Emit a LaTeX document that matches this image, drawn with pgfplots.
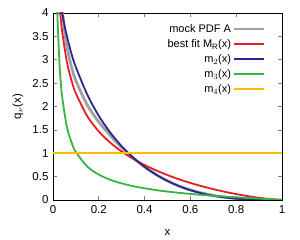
\documentclass[border=0pt]{standalone}
\usepackage{fontspec}
\setmainfont{Liberation Sans}
\setsansfont{Liberation Sans}
\usepackage{pgfplots}
\pgfplotsset{compat=1.18}
\definecolor{cgray}{RGB}{160,160,160}
\definecolor{cred}{RGB}{230,30,40}
\definecolor{cblue}{RGB}{40,40,145}
\definecolor{cgreen}{RGB}{55,180,65}
\definecolor{cyellow}{RGB}{255,190,0}
\begin{document}
\begin{tikzpicture}
\begin{axis}[
  at={(0,0)}, anchor=south west,
  scale only axis, width=229pt, height=187pt,
  xmin=0, xmax=1, ymin=0, ymax=4,
  xtick={0,0.2,...,1}, ytick={0,0.5,...,4},
  tick align=inside, major tick length=4pt,
  minor tick num=0,
  axis line style={line width=0.8pt},
  tick style={line width=0.6pt},
  /pgf/number format/assume math mode=true,
  tick label style={font=\fontsize{11.5}{13}\selectfont},
  xticklabel style={yshift=-2pt},
  yticklabel style={xshift=-1pt},
  xlabel={x}, ylabel={q$_\nu$(x)},
  label style={font=\fontsize{11.5}{13}\selectfont},
  xlabel style={at={(axis description cs:0.5,-0.171)}, anchor=center},
  ylabel style={at={(axis description cs:-0.153,0.5)}, anchor=center},
  legend style={at={(rel axis cs:0.94,0.96)}, anchor=north east, draw=none, fill=none,
    font=\fontsize{11}{13}\selectfont, row sep=1.5pt},
  legend cell align=right,
  legend plot pos=right,
  legend image code/.code={\draw[#1, line width=2pt] (0pt,0pt) -- (30pt,0pt);},
]
\addplot[cgray, line width=2.8pt, smooth, legend image post style={line width=2.8pt}] coordinates {
(0.02,5.6)(0.03,4.7)(0.04,4.1)(0.05,3.65)(0.06,3.3)(0.08,2.86)(0.1,2.55)(0.15,2.03)(0.2,1.67)(0.25,1.38)(0.3,1.12)(0.35,0.9)(0.4,0.71)(0.45,0.545)(0.5,0.41)(0.55,0.30)(0.6,0.215)(0.65,0.148)(0.7,0.097)(0.75,0.06)(0.8,0.033)(0.85,0.016)(0.9,0.006)(0.95,0.001)(1,0)};
\addlegendentry{mock PDF A}
\addplot[cred, line width=1.8pt, smooth] coordinates {
(0.02,4.91)(0.03,4.11)(0.04,3.61)(0.06,2.97)(0.08,2.57)(0.1,2.28)(0.15,1.79)(0.2,1.466)(0.25,1.227)(0.3,1.037)(0.35,0.881)(0.4,0.748)(0.45,0.634)(0.5,0.533)(0.55,0.444)(0.6,0.365)(0.65,0.295)(0.7,0.232)(0.75,0.176)(0.8,0.1265)(0.85,0.0833)(0.9,0.0468)(0.95,0.0178)(1,0)};
\addlegendentry{best fit M$_\mathrm{R}$(x)}
\addplot[cblue, line width=1.8pt, smooth] coordinates {
(0.02,4.8)(0.03,4.35)(0.04,4.01)(0.05,3.74)(0.06,3.52)(0.08,3.14)(0.1,2.84)(0.15,2.25)(0.2,1.80)(0.25,1.443)(0.3,1.149)(0.35,0.908)(0.4,0.707)(0.45,0.542)(0.5,0.407)(0.55,0.297)(0.6,0.210)(0.65,0.142)(0.7,0.091)(0.75,0.054)(0.8,0.028)(0.85,0.0124)(0.9,0.0039)(0.95,0.0005)(1,0)};
\addlegendentry{m$_2$(x)}
\addplot[cgreen, line width=1.8pt, smooth] coordinates {
(0.01,6.64)(0.015,4.82)(0.02,3.84)(0.03,2.78)(0.04,2.21)(0.06,1.58)(0.08,1.243)(0.1,1.026)(0.15,0.714)(0.2,0.543)(0.25,0.433)(0.3,0.355)(0.35,0.296)(0.4,0.250)(0.45,0.212)(0.5,0.180)(0.55,0.1535)(0.6,0.130)(0.65,0.109)(0.7,0.0908)(0.75,0.074)(0.8,0.058)(0.85,0.0438)(0.9,0.030)(0.95,0.016)(1,0)};
\addlegendentry{m$_3$(x)}
\addplot[cyellow, line width=1.8pt] coordinates {(0,1)(1,1)};
\addlegendentry{m$_4$(x)}
\end{axis}
\pgfresetboundingbox
\path (-53pt,-40pt) rectangle (247pt,200pt);
\end{tikzpicture}
\end{document}
